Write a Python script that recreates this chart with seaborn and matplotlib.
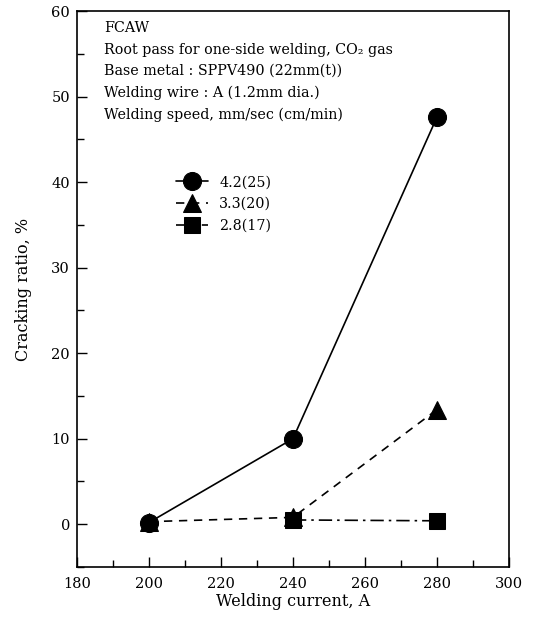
import matplotlib
matplotlib.use("Agg")
import matplotlib.pyplot as plt
import seaborn as sns
import pandas as pd
from matplotlib.ticker import MultipleLocator

sns.set_theme(style="ticks")
plt.rcParams['font.family'] = ['DejaVu Serif']

# Data
current_circle = [200, 240, 280]
ratio_circle = [0.2, 10.0, 47.6]
current_triangle = [200, 240, 280]
ratio_triangle = [0.3, 0.8, 13.4]
current_square = [240, 280]
ratio_square = [0.5, 0.4]
labels = ["4.2(25)", "3.3(20)", "2.8(17)"]

info_text = ("FCAW\n"
             "Root pass for one-side welding, CO\u2082 gas\n"
             "Base metal : SPPV490 (22mm(t))\n"
             "Welding wire : A (1.2mm dia.)\n"
             "Welding speed, mm/sec (cm/min)")

fig = plt.figure(figsize=(5.42, 6.21), dpi=100)
ax = fig.add_axes([0.142, 0.087, 0.797, 0.895])

sns.lineplot(x=current_circle, y=ratio_circle, ax=ax, color="black", marker="o",
             markersize=13, linestyle="-", linewidth=1.2, label=labels[0],
             markeredgecolor="black")
sns.lineplot(x=current_triangle, y=ratio_triangle, ax=ax, color="black", marker="^",
             markersize=13, linewidth=1.2, label=labels[1], markeredgecolor="black")
sns.lineplot(x=current_square, y=ratio_square, ax=ax, color="black", marker="s",
             markersize=12, linewidth=1.2, label=labels[2], markeredgecolor="black")

lines = ax.get_lines()
lines[1].set_linestyle((0, (5, 4)))
lines[2].set_linestyle((0, (8, 3, 1.5, 3)))

ax.set_xlim(180, 300)
ax.set_ylim(-5, 60)
ax.xaxis.set_major_locator(MultipleLocator(20))
ax.xaxis.set_minor_locator(MultipleLocator(10))
ax.yaxis.set_major_locator(MultipleLocator(10))
ax.yaxis.set_minor_locator(MultipleLocator(5))
ax.tick_params(axis="both", which="both", direction="in", labelsize=10.5, color="black",
               labelcolor="black")
ax.tick_params(which="major", length=7, width=1)
ax.tick_params(which="minor", length=5, width=1)
ax.tick_params(axis="y", which="major", pad=5)
ax.tick_params(axis="x", which="major", pad=7)
for s in ax.spines.values():
    s.set_color("black")
    s.set_linewidth(1.2)

ax.set_xlabel("Welding current, A", fontsize=11.5, color="black", labelpad=2)
ax.set_ylabel("Cracking ratio, %", fontsize=11.5, color="black", labelpad=14)

ax.text(0.062, 0.982, info_text, transform=ax.transAxes, fontsize=10.3, va="top",
        ha="left", linespacing=1.68, color="black")

leg = ax.legend(loc="upper left", bbox_to_anchor=(0.2, 0.728), frameon=False,
                fontsize=10.3, handlelength=2.2, labelspacing=0.55, handletextpad=0.8)
for t in leg.get_texts():
    t.set_color("black")

fig.savefig("out.png", dpi=100)
